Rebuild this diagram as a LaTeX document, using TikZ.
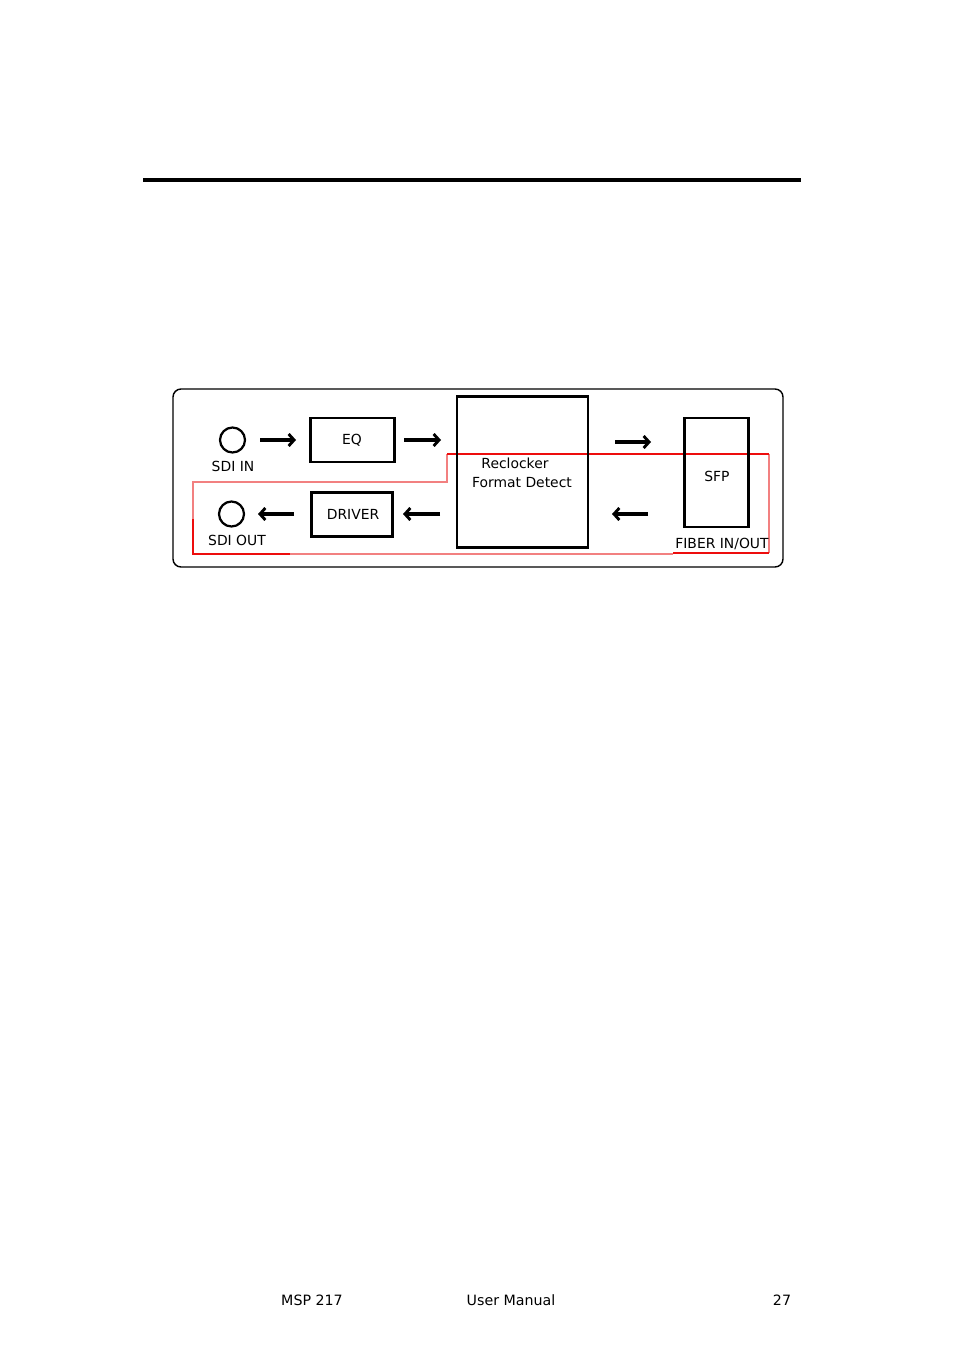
\documentclass[tikz,border=0pt]{standalone}
\usepackage{fontspec}
\setmainfont{DejaVu Sans}
\usetikzlibrary{positioning,arrows.meta}

\definecolor{redline}{rgb}{0.93,0.05,0.05}
\definecolor{pinkline}{rgb}{0.95,0.50,0.50}

\tikzset{
  blockbox/.style={draw, line width=1.8pt, inner sep=0pt},
  jack/.style={draw, circle, line width=1.4pt, minimum size=0.55cm, inner sep=0pt},
  lbl/.style={inner sep=0pt, font=\fontsize{8.7}{10}\selectfont},
  flow/.style={-{Straight Barb[length=3.4pt,width=7.5pt,line width=1.8pt]}, line width=2pt},
}

\begin{document}
\begin{tikzpicture}[x=0.022cm,y=-0.022cm]
\useasboundingbox (0,0) rectangle (954,1350);

% page rule
\coordinate (ruleL) at (143,180);
\coordinate (ruleR) at (801,180);
\draw[line width=2.5pt] (ruleL) -- (ruleR);

% frame
\draw[line width=0.9pt, rounded corners=5pt] (173,389) rectangle (783,567);

% red outline
\draw[pinkline, line width=0.7pt] (193,519) -- (193,482) -- (447,482) -- (447,454);
\draw[pinkline, line width=0.7pt] (769,454) -- (769,553);
\draw[pinkline, line width=0.7pt] (290,554) -- (673,554);
\draw[redline, line width=0.7pt] (447,454) -- (769,454);
\draw[redline, line width=0.9pt] (193,519) -- (193,554) -- (290,554);
\draw[redline, line width=0.9pt] (673,553) -- (769,553);

% left one
\node[jack] (sdiin) at (232.5,440) {};
\node[lbl] (sdiinlbl) at (233,466) {SDI IN};
\node[jack] (sdiout) at (231.5,514) {};
\node[lbl] (sdioutlbl) at (237,540) {SDI OUT};

% middle one
\node[blockbox, minimum width=1.83cm, minimum height=0.97cm] (eq) at (352.5,440) {};
\node[lbl] (eqlbl) at (352,440) {EQ};
\node[blockbox, minimum width=1.80cm, minimum height=0.95cm] (driver) at (352,514.5) {};
\node[lbl] (driverlbl) at (353,514) {DRIVER};

\node[blockbox, minimum width=2.88cm, minimum height=3.34cm] (reclock) at (522.5,472) {};
\node[lbl] (reclocklbl) at (515,463) {Reclocker};
\node[lbl] (formatlbl) at (522,483) {Format Detect};

% right one
\node[blockbox, minimum width=1.39cm, minimum height=2.40cm] (sfp) at (716.5,472.5) {};
\node[lbl] (sfplbl) at (717,476) {SFP};
\node[lbl] (fiberlbl) at (722,544) {FIBER IN/OUT};

% arrows
\coordinate (a1s) at (260,440);  \coordinate (a1e) at (296,440);
\coordinate (a2s) at (404,440);  \coordinate (a2e) at (441,440);
\coordinate (a3s) at (615,442);  \coordinate (a3e) at (651,442);
\coordinate (a4s) at (648,514);  \coordinate (a4e) at (612,514);
\coordinate (a5s) at (440,514);  \coordinate (a5e) at (403,514);
\coordinate (a6s) at (294,514);  \coordinate (a6e) at (258,514);
\draw[flow] (a1s) -- (a1e);
\draw[flow] (a2s) -- (a2e);
\draw[flow] (a3s) -- (a3e);
\draw[flow] (a4s) -- (a4e);
\draw[flow] (a5s) -- (a5e);
\draw[flow] (a6s) -- (a6e);

% footer
\node[inner sep=0pt, font=\fontsize{8.9}{10}\selectfont] (ftleft) at (312,1300) {MSP 217};
\node[inner sep=0pt, font=\fontsize{8.9}{10}\selectfont] (ftmid) at (511,1300) {User Manual};
\node[inner sep=0pt, font=\fontsize{8.9}{10}\selectfont] (ftright) at (782,1300) {27};

\end{tikzpicture}
\end{document}
